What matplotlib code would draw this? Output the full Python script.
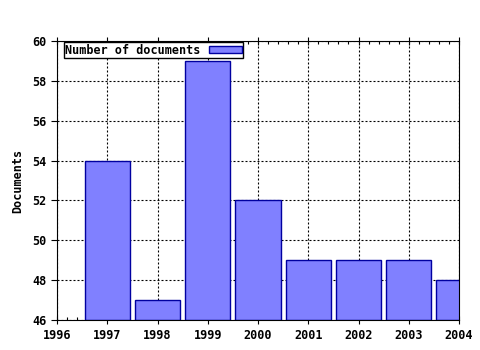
import matplotlib
matplotlib.use("Agg")
import matplotlib.pyplot as plt
from matplotlib.ticker import MultipleLocator

years = [1997, 1998, 1999, 2000, 2001, 2002, 2003, 2004]
documents = [54, 47, 59, 52, 49, 49, 49, 48]

plt.rcParams['font.family'] = ['DejaVu Sans Mono']
plt.rcParams['font.weight'] = 'bold'

fig = plt.figure(figsize=(4.8, 3.5), dpi=100)
ax = fig.add_axes([57/480, 30/350, (459-57)/480, (320-41)/350])

ax.bar(years, [d - 46 for d in documents], bottom=46, width=0.9,
       color='#8080ff', edgecolor='#0000a0', linewidth=1.0,
       label='Number of documents', zorder=2)

ax.set_xlim(1996, 2004)
ax.set_ylim(46, 60)
ax.xaxis.set_major_locator(MultipleLocator(1))
ax.xaxis.set_minor_locator(MultipleLocator(0.2))
ax.yaxis.set_major_locator(MultipleLocator(2))
ax.grid(True, which='major', color='black', linestyle=(0, (1.8, 1.8)), linewidth=0.8, zorder=1)
ax.set_axisbelow(True)
ax.tick_params(which='both', top=True, right=False, labelsize=8.5, width=0.8)
ax.tick_params(axis='x', which='major', direction='inout', length=6)
ax.tick_params(axis='x', which='minor', direction='in', length=2)
ax.tick_params(axis='y', which='major', direction='out', length=4)
for s in ax.spines.values():
    s.set_linewidth(0.8)
ax.set_xticklabels([str(int(t)) for t in ax.get_xticks()], fontweight='bold')
ax.set_ylabel('Documents', fontsize=8.5, fontweight='bold', labelpad=6)

leg = ax.legend(loc='upper left', bbox_to_anchor=(0.017, 0.995), markerfirst=False,
                frameon=True, fancybox=False, framealpha=1, edgecolor='black',
                fontsize=8.5, borderpad=0.1, handlelength=2.8, handleheight=0.6,
                borderaxespad=0.0, handletextpad=0.7)
leg.get_frame().set_linewidth(1.0)
for t in leg.get_texts():
    t.set_fontweight('bold')

fig.savefig('out.png', dpi=100)
